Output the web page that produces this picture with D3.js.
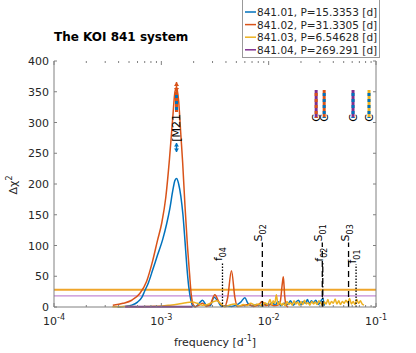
<!DOCTYPE html>
<html><head><meta charset="utf-8">
<script src="https://cdn.jsdelivr.net/npm/d3@7/dist/d3.min.js"></script>
<style>body{margin:0;background:#fff}svg{display:block;font-family:"DejaVu Sans",sans-serif}</style>
</head><body><svg id="c" width="416" height="353"></svg>
<script>
// ---- data ----
const legendLabels = ["841.01, P=15.3353 [d]","841.02, P=31.3305 [d]","841.03, P=6.54628 [d]","841.04, P=269.291 [d]"];
const seriesColors = ["#0072BD","#D95319","#EDB120","#7E2F8E"];

const f01 = [3.9e-4,4.6e-4,5.3e-4,6.0e-4,6.6e-4,7.0e-4,7.6e-4,8.3e-4,9.2e-4,1.03e-3,1.12e-3,1.20e-3,1.28e-3,1.34e-3,1.39e-3,1.45e-3,1.52e-3,1.59e-3,1.66e-3,1.73e-3,1.80e-3,1.88e-3,1.96e-3,2.08e-3,2.25e-3,2.42e-3,2.62e-3,2.85e-3,3.1e-3,3.35e-3,3.65e-3,4.0e-3,4.5e-3,5.0e-3,5.5e-3,6.0e-3,6.4e-3,7.0e-3,7.7e-3,8.4e-3,9.2e-3,1.0e-2,1.08e-2,1.15e-2,1.22e-2,1.3e-2,1.4e-2,1.5e-2,1.6e-2,1.7e-2,1.8e-2,1.9e-2,2.0e-2,2.1e-2,2.2e-2,2.3e-2,2.4e-2,2.5e-2,2.6e-2,2.75e-2,2.9e-2,3.05e-2,3.2e-2,3.3e-2];
const v01 = [0,1,3,8,16,26,40,60,84,110,135,160,190,206,209,200,180,150,108,65,33,12,2,0.5,6,11,3,2,16,10,1,2,1,3,8,15,6,2,4,2,5,3,7,3,9,2,6,4,10,3,8,11,4,9,6,12,5,10,7,11,4,9,14,2];

const f02 = [3.53e-4,4.4e-4,5.3e-4,6.3e-4,7.3e-4,8.3e-4,9.2e-4,1.01e-3,1.10e-3,1.19e-3,1.28e-3,1.34e-3,1.39e-3,1.45e-3,1.52e-3,1.58e-3,1.66e-3,1.75e-3,1.83e-3,1.90e-3,1.98e-3,2.08e-3,2.25e-3,2.42e-3,2.62e-3,2.85e-3,3.15e-3,3.45e-3,3.9e-3,4.15e-3,4.5e-3,4.85e-3,5.1e-3,5.9e-3,6.5e-3,7.2e-3,8.0e-3,8.7e-3,9.4e-3,1.03e-2,1.12e-2,1.22e-2,1.28e-2,1.34e-2,1.37e-2,1.41e-2,1.46e-2,1.52e-2];
const v02 = [3,6,11,22,42,75,108,137,178,240,310,350,357,335,280,235,165,100,55,20,4,0.5,3,6,1,4,20,8,1,15,59,15,1,3,4,1,3,9,2,4,2,3,8,38,49,18,2,0];

const f03 = [3.5e-4,4.5e-4,6e-4,8e-4,1.0e-3,1.2e-3,1.45e-3,1.7e-3,1.95e-3,2.15e-3,2.4e-3,2.7e-3,3.0e-3,3.3e-3,3.6e-3,3.9e-3,4.3e-3,4.8e-3,5.3e-3,5.8e-3,6.3e-3,6.8e-3,7.4e-3,8.0e-3,8.6e-3,9.2e-3,9.8e-3,1.03e-2,1.07e-2,1.1e-2,1.14e-2,1.18e-2,1.22e-2,1.27e-2,1.32e-2,1.37e-2,1.42e-2,1.48e-2,1.54e-2,1.6e-2,1.66e-2,1.72e-2,1.79e-2,1.86e-2,1.93e-2,2.0e-2,2.08e-2,2.16e-2,2.24e-2,2.33e-2,2.42e-2,2.52e-2,2.62e-2,2.72e-2,2.83e-2,2.94e-2,3.06e-2,3.18e-2,3.3e-2,3.43e-2,3.56e-2,3.7e-2,3.85e-2,4.0e-2,4.16e-2,4.32e-2,4.5e-2,4.67e-2,4.86e-2,5.05e-2,5.25e-2,5.45e-2,5.67e-2,5.9e-2,6.13e-2,6.37e-2,6.62e-2,6.88e-2,7.15e-2,7.43e-2,7.73e-2];
const v03 = [0.5,1,0.5,1,1.5,3,5,7,8,6,3,4,8,10,5,0.5,3,5,1,4,2,6,3,5,2,7,4,12,3,10,6,20,4,8,3,6,2,9,4,7,3,10,5,8,3,9,4,11,5,7,3,9,5,8,4,10,6,3,8,5,12,4,9,6,13,5,10,4,9,6,11,7,14,5,9,4,12,6,10,5,3];

const f04 = [4.6e-4,6e-4,8e-4,1.0e-3,1.3e-3,1.6e-3,1.95e-3];
const v04 = [0.4,0.6,0.5,0.5,0.6,0.5,0.4];

const thresholdValues = [28, 18];
const thresholdColors = ["#EFA52A","#C48AD4"];

const markerNames = ["f","S","f","S","S","f"];
const markerSubs  = ["04","02","02","01","03","01"];
const markerFreqs = [3.713e-3, 8.73e-3, 3.192e-2, 3.16e-2, 5.55e-2, 6.52e-2];
const markerTops  = [73, 105, 72, 105, 105, 69];
const markerDash  = ["1.5,1.5","6,4","6,2,1.5,2","6,4","6,4","1.5,1.5"];

const resFreqs  = [1.385e-3, 0.0277, 0.0329, 0.0611, 0.0861];
const resLabels = ["M21","C","C","C","C"];
const resColA   = ["#D95319","#7E2F8E","#D95319","#7E2F8E","#EDB120"];
const resColB   = ["#0072BD","#D95319","#0072BD","#0072BD","#0072BD"];

const yTicks = [0,50,100,150,200,250,300,350,400];
const xTickExps = [-4,-3,-2,-1];

// ---- drawing ----
const svg = d3.select("#c");
const L=54, R=376, T=61, B=307;
const x = d3.scaleLog().domain([1e-4,1e-1]).range([L,R]);
const y = d3.scaleLinear().domain([0,400]).range([B,T]);
const axisCol = "#808080", txtCol = "#262626";

// thresholds
thresholdValues.forEach((v,i)=>{
  svg.append("line").attr("x1",L).attr("x2",R).attr("y1",y(v)).attr("y2",y(v))
    .attr("stroke",thresholdColors[i]).attr("stroke-width",i===0?2:1.2);
});

// curves
const line = d3.line().x(d=>x(d[0])).y(d=>y(d[1])).curve(d3.curveMonotoneX);
const series = [[f04,v04,3],[f03,v03,2],[f01,v01,0],[f02,v02,1]];
// draw order: blue, orange, yellow, purple roughly as in ref
[[f01,v01,0],[f02,v02,1],[f03,v03,2],[f04,v04,3]].forEach(([fs,vs,ci])=>{
  svg.append("path").datum(fs.map((f,i)=>[f,vs[i]]))
    .attr("d",line).attr("fill","none").attr("stroke",seriesColors[ci])
    .attr("stroke-width",ci===3?2:1.5).attr("stroke-linejoin","round");
});

// vertical markers
markerFreqs.forEach((f,i)=>{
  const xx = x(f);
  svg.append("line").attr("x1",xx).attr("x2",xx).attr("y1",y(0)).attr("y2",y(markerTops[i]))
    .attr("stroke","#000").attr("stroke-width",1.3).attr("stroke-dasharray",markerDash[i]);
  const t = svg.append("text").attr("transform",`translate(${xx},${y(markerTops[i])-1}) rotate(-90)`)
    .attr("font-size",11).attr("fill","#000");
  t.append("tspan").text(markerNames[i]);
  t.append("tspan").attr("font-size",8).attr("dy",4).text(markerSubs[i]);
});

// resonance markers
resFreqs.forEach((f,i)=>{
  const xx = x(f);
  const isM = resLabels[i]==="M21";
  const top = isM?92:90, bot = isM?112:118;
  svg.append("line").attr("x1",xx).attr("x2",xx).attr("y1",top).attr("y2",bot)
    .attr("stroke",resColA[i]).attr("stroke-width",3);
  svg.append("line").attr("x1",xx).attr("x2",xx).attr("y1",top).attr("y2",bot)
    .attr("stroke",resColB[i]).attr("stroke-width",3).attr("stroke-dasharray","3,3").attr("stroke-dashoffset",-3);
  if(isM){
    // small arrow markers
    svg.append("path").attr("d",`M${xx},82 L${xx-2.5},86 L${xx+2.5},86 Z M${xx},92 L${xx-2.5},88 L${xx+2.5},88 Z`).attr("fill","#D95319");
    svg.append("line").attr("x1",xx).attr("x2",xx).attr("y1",82).attr("y2",92).attr("stroke","#D95319").attr("stroke-width",1.5);
    svg.append("path").attr("d",`M${xx},143 L${xx-2.5},146.5 L${xx+2.5},146.5 Z M${xx},152 L${xx-2.5},148.5 L${xx+2.5},148.5 Z`).attr("fill","#0072BD");
    svg.append("line").attr("x1",xx).attr("x2",xx).attr("y1",143).attr("y2",152).attr("stroke","#0072BD").attr("stroke-width",1.5);
  }
  svg.append("text").attr("transform",`translate(${xx},${isM?114:114}) rotate(-90)`)
    .attr("text-anchor","end").attr("dominant-baseline","central")
    .attr("font-size",isM?11:11).attr("fill","#000").text(isM?"[M21":resLabels[i]);
});

// axes
const g = svg.append("g").attr("stroke",axisCol).attr("fill","none");
g.append("line").attr("x1",L).attr("x2",L).attr("y1",T).attr("y2",B);
g.append("line").attr("x1",R).attr("x2",R).attr("y1",T).attr("y2",B);
g.append("line").attr("x1",L).attr("x2",R).attr("y1",B).attr("y2",B);
yTicks.forEach(v=>{
  g.append("line").attr("x1",L).attr("x2",L+3).attr("y1",y(v)).attr("y2",y(v));
  g.append("line").attr("x1",R).attr("x2",R-3).attr("y1",y(v)).attr("y2",y(v));
  svg.append("text").attr("x",L-5).attr("y",y(v)+4).attr("text-anchor","end")
    .attr("font-size",11).attr("fill",txtCol).text(v);
});
// log ticks
for(let e=-4;e<=-1;e++){
  for(let m=1;m<=9;m++){
    const f = m*Math.pow(10,e);
    if(f>0.1000001) break;
    const xx = x(f), len = m===1?4:2;
    g.append("line").attr("x1",xx).attr("x2",xx).attr("y1",B).attr("y2",B-len);
    g.append("line").attr("x1",xx).attr("x2",xx).attr("y1",T).attr("y2",T+len);
  }
}
xTickExps.forEach(e=>{
  const t = svg.append("text").attr("x",x(Math.pow(10,e))).attr("y",325)
    .attr("text-anchor","middle").attr("font-size",11).attr("fill",txtCol);
  t.append("tspan").text("10");
  t.append("tspan").attr("font-size",8).attr("dy",-5).text(String(e));
});

// axis labels
const xl = svg.append("text").attr("x",215).attr("y",346).attr("text-anchor","middle")
  .attr("font-size",11).attr("fill",txtCol);
xl.append("tspan").text("frequency [d");
xl.append("tspan").attr("font-size",8).attr("dy",-5).text("-1");
xl.append("tspan").attr("dy",5).text("]");
const yl = svg.append("text").attr("transform","translate(17,185) rotate(-90)").attr("text-anchor","middle")
  .attr("font-size",11).attr("fill",txtCol);
yl.append("tspan").text("\u0394\u03C7");
yl.append("tspan").attr("font-size",8).attr("dy",-5).text("2");

// title
svg.append("text").attr("x",54).attr("y",41).attr("font-size",12).attr("font-weight","bold")
  .attr("fill","#000").text("The KOI 841 system");

// legend
svg.append("rect").attr("x",242.5).attr("y",-2).attr("width",137).attr("height",59.5)
  .attr("fill","#fff").attr("stroke","#999");
legendLabels.forEach((lab,i)=>{
  const yy = 12 + i*12.6;
  svg.append("line").attr("x1",245).attr("x2",256).attr("y1",yy).attr("y2",yy)
    .attr("stroke",seriesColors[i]).attr("stroke-width",1.5);
  svg.append("text").attr("x",257).attr("y",yy+4).attr("font-size",10.5).attr("fill",txtCol).text(lab);
});
</script></body></html>
